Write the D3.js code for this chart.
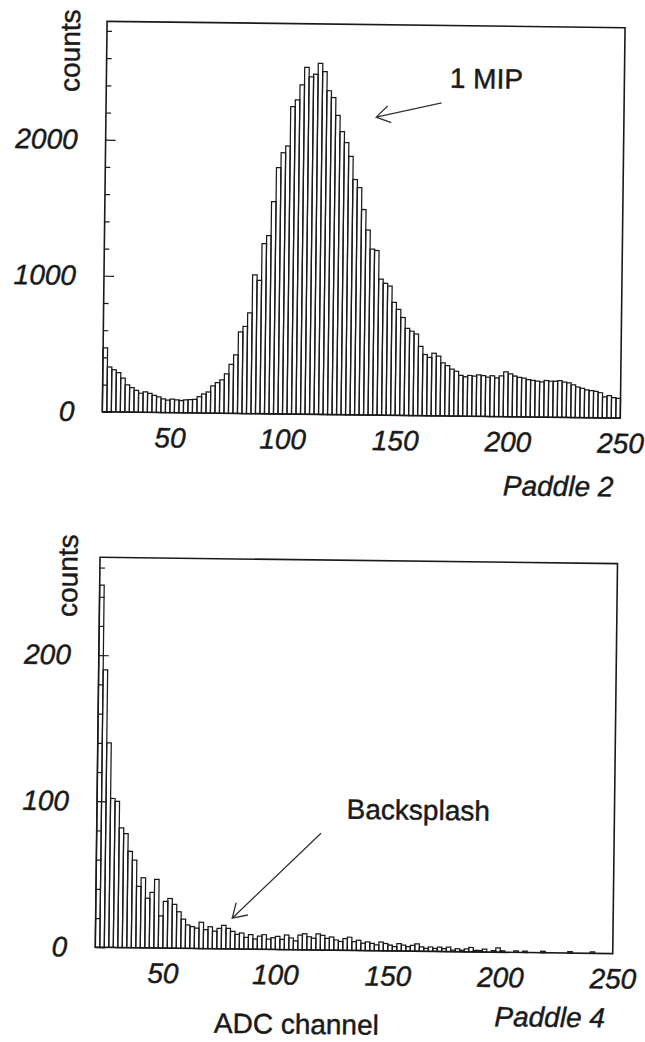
<!DOCTYPE html>
<html>
<head>
<meta charset="utf-8">
<script src="https://cdn.jsdelivr.net/npm/d3@7"></script>
<style>
  html, body { margin: 0; background: #ffffff; }
  svg { display: block; }
  text { font-family: "Liberation Sans", Arial, Helvetica, sans-serif; fill: #1a1a1a;
         stroke: #1a1a1a; stroke-width: 0.45px; }
</style>
</head>
<body>
<svg id="fig" width="645" height="1042"></svg>
<script>
// ADC spectra, 2-channel bins starting at channel 20
const binStart = 20;
const binWidth = 2;
const xDomain = [20, 250];
const xTickValues = [50, 100, 150, 200, 250];

// Paddle 2: counts per bin (channels 20..250)
const paddle2Counts = [
  470, 330, 310, 290, 250, 200, 180, 160, 140, 150,
  140, 125, 115, 100, 92, 100, 95, 90, 95, 98,
  100, 120, 140, 155, 200, 225, 245, 290, 360, 430,
  600, 640, 740, 1020, 980, 1250, 1310, 1560, 1810, 1920,
  1970, 2260, 2310, 2420, 2550, 2480, 2500, 2580, 2520, 2380,
  2330, 2200, 2080, 2000, 1900, 1730, 1670, 1510, 1360, 1220,
  1210, 1000, 970, 950, 830, 780, 720, 640, 620, 600,
  510, 450, 430, 460, 440, 390, 370, 345, 330, 300,
  290, 300, 295, 305, 300, 290, 300, 285, 300, 330,
  315, 300, 290, 285, 275, 270, 265, 260, 270, 265,
  265, 270, 260, 255, 240, 225, 215, 205, 200, 195,
  185, 155, 165, 150, 145
];

// Paddle 4: counts per bin (channels 20..250)
const paddle4Counts = [
  248, 190, 140, 102, 100, 82, 78, 66, 60, 42,
  48, 34, 38, 47, 22, 32, 34, 30, 25, 20,
  16, 15, 14, 18, 13, 15, 12, 14, 16, 14,
  12, 10, 11, 8, 10, 7, 9, 10, 7, 8,
  9, 7, 10, 8, 6, 10, 11, 9, 8, 11,
  10, 8, 9, 7, 6, 8, 9, 6, 7, 5,
  6, 5, 4, 6, 5, 4, 3, 5, 4, 3,
  4, 5, 3, 2, 3, 2, 3, 2, 3, 1,
  2, 1, 2, 3, 1, 1, 2, 0, 1, 3,
  1, 0, 0, 1, 0, 1, 0, 0, 0, 1,
  0, 0, 0, 0, 0, 1, 0, 0, 0, 0,
  1, 0, 0, 0, 0
];

const paddle2MajorTicks = [0, 1000, 2000];
const paddle4MajorTicks = [0, 100, 200];

const panels = [
  {
    counts: paddle2Counts, yMax: 2870, majors: paddle2MajorTicks, minorStep: 200,
    left: 101, right: 619, top: 24, bottom: 414.5,
    yTitle: "counts", yTitlePos: [74, 95],
    name: "Paddle 2", namePos: [613, 493],
    note: { text: "1 MIP", at: [172.5, 2412], tail: [169, 2300], tip: [140, 2190] }
  },
  {
    counts: paddle4Counts, yMax: 267, majors: paddle4MajorTicks, minorStep: 20,
    left: 100.5, right: 618, top: 560, bottom: 950,
    yTitle: "counts", yTitlePos: [78, 620],
    name: "Paddle 4", namePos: [611, 1024],
    note: { text: "Backsplash", at: [131, 90], tail: [119.7, 80], tip: [80.7, 21] },
    xTitle: "ADC channel", xTitlePos: [220, 1034]
  }
];

const ink = "#1a1a1a";
const fontSize = 28;

const svg = d3.select("#fig");
const root = svg.append("g").attr("transform", "rotate(0.7 322 521)");

panels.forEach(p => {
  const x = d3.scaleLinear().domain(xDomain).range([p.left, p.right]);
  const y = d3.scaleLinear().domain([0, p.yMax]).range([p.bottom, p.top]);
  const g = root.append("g");

  // histogram bins, each outlined down to the baseline
  const bins = p.counts.map((c, i) => ({ x0: binStart + i * binWidth, c }))
    .filter(d => d.c > 0);
  g.append("g").selectAll("rect").data(bins).join("rect")
    .attr("x", d => x(d.x0))
    .attr("width", d => x(d.x0 + binWidth) - x(d.x0))
    .attr("y", d => y(d.c))
    .attr("height", d => y(0) - y(d.c))
    .attr("fill", "none")
    .attr("stroke", ink)
    .attr("stroke-width", 1.25);

  // frame
  g.append("rect")
    .attr("x", p.left).attr("y", p.top)
    .attr("width", p.right - p.left).attr("height", p.bottom - p.top)
    .attr("fill", "none").attr("stroke", ink).attr("stroke-width", 1.6);

  // minor ticks (inside)
  const minors = d3.range(0, p.yMax, p.minorStep).filter(v => !p.majors.includes(v));
  const minorAxis = d3.axisLeft(y).tickValues(minors).tickSize(-5).tickFormat("");
  g.append("g").attr("transform", `translate(${p.left},0)`).call(minorAxis)
    .call(a => a.select(".domain").remove())
    .call(a => a.selectAll("line").attr("stroke", ink).attr("stroke-width", 1.2));

  // major ticks with labels
  const majorAxis = d3.axisLeft(y).tickValues(p.majors).tickSize(-10).tickPadding(28)
    .tickFormat(d3.format("d"));
  g.append("g").attr("transform", `translate(${p.left},0)`).call(majorAxis)
    .call(a => a.select(".domain").remove())
    .call(a => a.selectAll("line").attr("stroke", ink).attr("stroke-width", 1.2))
    .call(a => a.selectAll("text")
      .attr("font-family", "'Liberation Sans', Arial, sans-serif")
      .attr("font-size", fontSize).attr("font-style", "italic").attr("fill", "#1a1a1a"));

  // x labels (no tick marks)
  const xAxis = d3.axisBottom(x).tickValues(xTickValues).tickSize(0).tickPadding(15)
    .tickFormat(d3.format("d"));
  g.append("g").attr("transform", `translate(0,${p.bottom})`).call(xAxis)
    .call(a => a.select(".domain").remove())
    .call(a => a.selectAll("text")
      .attr("font-family", "'Liberation Sans', Arial, sans-serif")
      .attr("font-size", fontSize).attr("font-style", "italic").attr("fill", "#1a1a1a"));

  // axis titles
  g.append("text")
    .attr("transform", `translate(${p.yTitlePos[0]},${p.yTitlePos[1]}) rotate(-90)`)
    .attr("font-size", fontSize)
    .text(p.yTitle);

  g.append("text")
    .attr("x", p.namePos[0]).attr("y", p.namePos[1])
    .attr("text-anchor", "end")
    .attr("font-size", fontSize).attr("font-style", "italic")
    .text(p.name);

  if (p.xTitle) {
    g.append("text")
      .attr("x", p.xTitlePos[0]).attr("y", p.xTitlePos[1])
      .attr("font-size", fontSize)
      .text(p.xTitle);
  }

  // annotation: label and open arrow
  const n = p.note;
  g.append("text")
    .attr("x", x(n.at[0])).attr("y", y(n.at[1]))
    .attr("font-size", fontSize)
    .text(n.text);

  const tx = x(n.tip[0]), ty = y(n.tip[1]);
  const sx = x(n.tail[0]), sy = y(n.tail[1]);
  const ang = Math.atan2(sy - ty, sx - tx);
  const headLen = 16, spread = 32 * Math.PI / 180;
  const arrow = d3.path();
  arrow.moveTo(sx, sy); arrow.lineTo(tx, ty);
  arrow.moveTo(tx + headLen * Math.cos(ang - spread), ty + headLen * Math.sin(ang - spread));
  arrow.lineTo(tx, ty);
  arrow.lineTo(tx + headLen * Math.cos(ang + spread), ty + headLen * Math.sin(ang + spread));
  g.append("path").attr("d", arrow.toString())
    .attr("fill", "none").attr("stroke", "#333").attr("stroke-width", 1.3);
});
</script>
</body>
</html>
